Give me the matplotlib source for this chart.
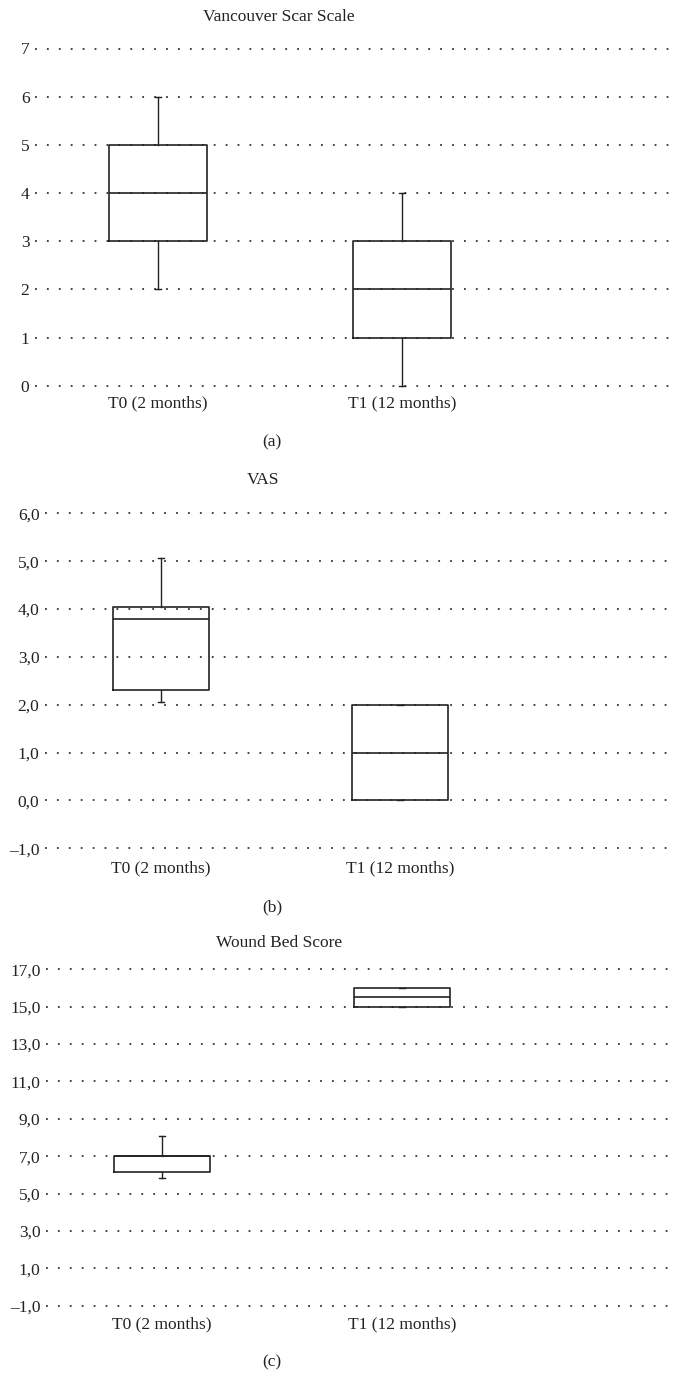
import matplotlib
matplotlib.use('Agg')
import matplotlib.pyplot as plt

plt.rcParams['font.family'] = ['Liberation Serif', 'DejaVu Serif']

groups = ['T0 (2 months)', 'T1 (12 months)']

# Vancouver Scar Scale
vss_lo = [2.0, 0.0]
vss_q1 = [3.0, 1.0]
vss_med = [4.0, 2.0]
vss_q3 = [5.0, 3.0]
vss_hi = [6.0, 4.0]
vss_ticks = [0, 1, 2, 3, 4, 5, 6, 7]
vss_labels = ['0', '1', '2', '3', '4', '5', '6', '7']

# VAS
vas_lo = [2.06, 0.0]
vas_q1 = [2.31, 0.0]
vas_med = [3.80, 1.0]
vas_q3 = [4.05, 2.0]
vas_hi = [5.07, 2.0]
vas_ticks = [-1, 0, 1, 2, 3, 4, 5, 6]
vas_labels = ['\u20131,0', '0,0', '1,0', '2,0', '3,0', '4,0', '5,0', '6,0']

# Wound Bed Score
wbs_lo = [5.83, 15.0]
wbs_q1 = [6.13, 15.0]
wbs_med = [7.0, 15.5]
wbs_q3 = [7.0, 16.0]
wbs_hi = [8.1, 16.0]
wbs_ticks = [-1, 1, 3, 5, 7, 9, 11, 13, 15, 17]
wbs_labels = ['\u20131,0', '1,0', '3,0', '5,0', '7,0', '9,0', '11,0', '13,0', '15,0', '17,0']

W, H = 674, 1373
fig = plt.figure(figsize=(W / 100, H / 100), dpi=100)

def panel(lo, q1, med, q3, hi, ticks, labels, ylo_px, yhi_px, left_px, c1, c2,
          title, title_x, title_y, cap, cap_y, xpad):
    ylo, yhi = ticks[0], ticks[-1]
    pad = (yhi - ylo) * 0.012
    ppu = (ylo_px - yhi_px) / (yhi - ylo)
    bot_px = ylo_px + pad * ppu
    top_px = yhi_px - pad * ppu
    ax = fig.add_axes([left_px / W, 1 - bot_px / H, (W - left_px) / W, (bot_px - top_px) / H])
    stats = []
    for i in range(len(groups)):
        stats.append({'whislo': lo[i], 'q1': q1[i], 'med': med[i], 'q3': q3[i],
                      'whishi': hi[i], 'fliers': [], 'label': groups[i]})
    ax.bxp(stats, positions=[1, 2], widths=0.4, showfliers=False, capwidths=0.028,
           boxprops=dict(color='#222222', linewidth=1.2),
           medianprops=dict(color='#222222', linewidth=1.2),
           whiskerprops=dict(color='#222222', linewidth=1.0),
           capprops=dict(color='#222222', linewidth=1.0), zorder=3)
    scale = c2 - c1
    ax.set_xlim(1 - (c1 - left_px) / scale, 2 + (W - c2) / scale)
    ax.set_ylim(ylo - pad, yhi + pad)
    ax.set_yticks(ticks)
    ax.set_yticklabels(labels)
    ax.set_xticks([1, 2])
    ax.set_xticklabels(groups)
    ax.tick_params(length=0, labelsize=12.5, colors='#222222')
    ax.tick_params(axis='y', pad=4)
    ax.tick_params(axis='x', pad=xpad)
    for s in ax.spines.values():
        s.set_visible(False)
    ax.yaxis.grid(True, linestyle=(0, (1.0, 5.6)), color='#333333', linewidth=1.3, zorder=0)
    ax.set_axisbelow(True)
    ax.patch.set_alpha(0)
    fig.text(title_x / W, 1 - title_y / H, title, ha='center', va='center', fontsize=12.5, color='#222222')
    fig.text(272 / W, 1 - cap_y / H, cap, ha='center', va='center', fontsize=12.5, color='#222222')
    return ax

panel(vss_lo, vss_q1, vss_med, vss_q3, vss_hi, vss_ticks, vss_labels,
      385.7, 48.5, 35, 158, 402, 'Vancouver Scar Scale', 279, 17, '(a)', 442, 4)
panel(vas_lo, vas_q1, vas_med, vas_q3, vas_hi, vas_ticks, vas_labels,
      848.3, 513.3, 45, 161, 400, 'VAS', 263, 480, '(b)', 907, 5.5)
panel(wbs_lo, wbs_q1, wbs_med, wbs_q3, wbs_hi, wbs_ticks, wbs_labels,
      1305.7, 969.3, 46, 162, 402, 'Wound Bed Score', 279, 943, '(c)', 1362, 4.5)

fig.savefig('out.png', dpi=100)
